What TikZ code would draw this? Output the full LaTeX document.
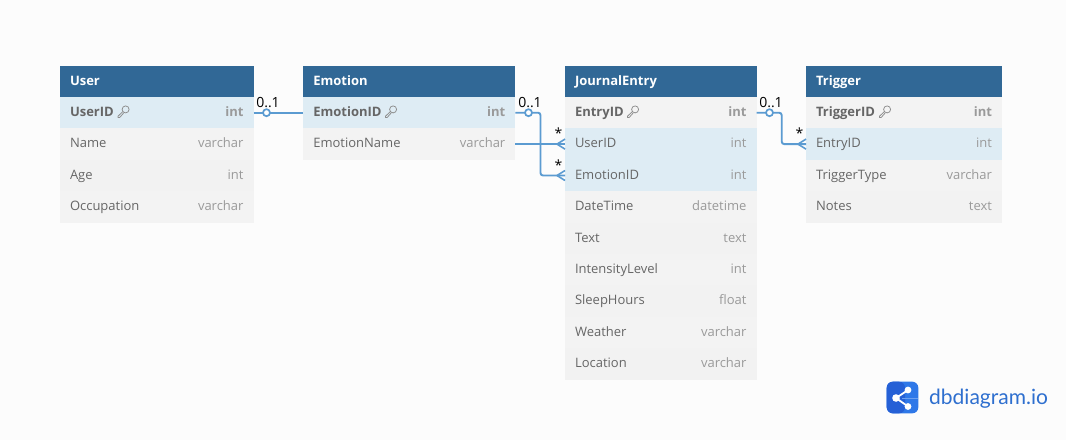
\documentclass[tikz,border=0pt]{standalone}
\usepackage{fontspec}
\setmainfont{Open Sans}
\newfontfamily\logofont{Lato}
\definecolor{pagebg}{HTML}{FCFCFC}
\definecolor{headblue}{HTML}{316896}
\definecolor{keyrow}{HTML}{DEECF4}
\definecolor{rowa}{HTML}{F3F3F3}
\definecolor{rowb}{HTML}{F2F2F2}
\definecolor{namegray}{HTML}{666666}
\definecolor{typegray}{HTML}{9A9A9A}
\definecolor{relblue}{HTML}{5B9BD1}
\definecolor{logoblue}{HTML}{2E6FCF}
\definecolor{logodark}{HTML}{2560D6}
\definecolor{logolight}{HTML}{2F78E8}
\tikzset{
  tablebox/.style={anchor=north west, inner xsep=10pt, inner ysep=0pt, outer sep=0pt, text height=10.6pt, text depth=3pt, font=\fontsize{13}{15}\selectfont, align=left},
  usercol/.style={text width=173.5pt},
  emotioncol/.style={text width=192pt},
  entrycol/.style={text width=171.5pt},
  triggercol/.style={text width=176pt},
  head/.style={tablebox, fill=headblue, text=white, minimum height=31pt, font=\fontsize{13}{15}\selectfont\bfseries},
  plain/.style={tablebox, fill=rowa, text=namegray, minimum height=31.4pt},
  plainb/.style={plain, fill=rowb},
  hit/.style={plain, fill=keyrow},
  pk/.style={plain, font=\fontsize{13}{15}\selectfont\bfseries},
  pkhit/.style={hit, font=\fontsize{13}{15}\selectfont\bfseries},
  rel/.style={draw=relblue, line width=1.9pt, rounded corners=2.5pt},
  foot/.style={draw=relblue, line width=1.6pt},
  card/.style={inner sep=0pt, text=black, font=\fontsize{14}{16}\selectfont},
  ring/.style={circle, draw=relblue, fill=white, line width=1.7pt, minimum size=7pt, inner sep=0pt},
  keyicon/.pic={
    \draw[namegray!75, line width=0.75pt] (2.6,-2.4) circle (3.5);
    \draw[namegray!75, line width=0.75pt, line join=round] (-0.2,-0.2) -- (-5,4.4) -- (-5,5.8) -- (-3.4,5.8) -- (0.8,1);
  },
}
\newcommand{\ftype}[1]{\hfill\textcolor{typegray}{#1}}
\begin{document}
\begin{tikzpicture}[x=1pt, y=-1pt]
\fill[pagebg] (0,0) rectangle (1066,440);
\useasboundingbox (0,0) rectangle (1066,440);
% User
\node[head, usercol] (User) at (60,66) {User};
\node[pkhit, usercol] (UserUserID) at (60,97) {UserID\ftype{int}};
\node[plain, usercol] (UserName) at (60,128.4) {Name\ftype{varchar}};
\node[plainb, usercol] (UserAge) at (60,159.8) {Age\ftype{int}};
\node[plain, usercol] (UserOccupation) at (60,191.2) {Occupation\ftype{varchar}};
\pic at (123,111.8) {keyicon};
% Emotion
\node[head, emotioncol] (Emotion) at (303.3,66) {Emotion};
\node[pkhit, emotioncol] (EmotionEmotionID) at (303.3,97) {EmotionID\ftype{int}};
\node[plain, emotioncol] (EmotionName) at (303.3,128.4) {EmotionName\ftype{varchar}};
\pic at (390.5,111.8) {keyicon};
% JournalEntry
\node[head, entrycol] (Entry) at (565,66) {JournalEntry};
\node[pk, entrycol] (EntryEntryID) at (565,97) {EntryID\ftype{int}};
\node[hit, entrycol] (EntryUserID) at (565,128.4) {UserID\ftype{int}};
\node[hit, entrycol] (EntryEmotionID) at (565,159.8) {EmotionID\ftype{int}};
\node[plain, entrycol] (EntryDateTime) at (565,191.2) {DateTime\ftype{datetime}};
\node[plainb, entrycol] (EntryText) at (565,222.6) {Text\ftype{text}};
\node[plain, entrycol] (EntryLevel) at (565,254) {IntensityLevel\ftype{int}};
\node[plainb, entrycol] (EntrySleep) at (565,285.4) {SleepHours\ftype{float}};
\node[plain, entrycol] (EntryWeather) at (565,316.8) {Weather\ftype{varchar}};
\node[plainb, entrycol] (EntryLocation) at (565,348.2) {Location\ftype{varchar}};
\pic at (632.5,111.8) {keyicon};
% Trigger
\node[head, triggercol] (Trigger) at (806,66) {Trigger};
\node[pk, triggercol] (TriggerTriggerID) at (806,97) {TriggerID\ftype{int}};
\node[hit, triggercol] (TriggerEntryID) at (806,128.4) {EntryID\ftype{int}};
\node[plain, triggercol] (TriggerType) at (806,159.8) {TriggerType\ftype{varchar}};
\node[plainb, triggercol] (TriggerNotes) at (806,191.2) {Notes\ftype{text}};
\pic at (884.5,111.8) {keyicon};
% relations
\draw[rel] (UserUserID.east) -- (EmotionEmotionID.west);
\draw[rel] (EmotionName.east) -- (EntryUserID.west);
\draw[rel] (EmotionEmotionID.east) -- (540.5,112.7) |- (EntryEmotionID.west);
\draw[rel] (EntryEntryID.east) -- (781.7,112.7) |- (TriggerEntryID.west);
\draw[foot] (EntryUserID.west) ++(-8,0) -- ++(8,-5) ++(-8,5) -- ++(8,5);
\draw[foot] (EntryEmotionID.west) ++(-8,0) -- ++(8,-5) ++(-8,5) -- ++(8,5);
\draw[foot] (TriggerEntryID.west) ++(-8,0) -- ++(8,-5) ++(-8,5) -- ++(8,5);
\node[ring] (ringA) at (266.5,112.7) {};
\node[ring] (ringB) at (528.5,112.7) {};
\node[ring] (ringC) at (769.5,112.7) {};
\node[card] (cardA) at (268,102.5) {0..1};
\node[card] (cardB) at (530,102.5) {0..1};
\node[card] (cardC) at (771,102.5) {0..1};
\node[card] (starA) at (558.5,133) {*};
\node[card] (starB) at (558.5,165) {*};
\node[card] (starC) at (799.5,133) {*};
% logo
\fill[logolight, rounded corners=6pt] (886.7,381.7) rectangle (918.3,413.3);
\fill[logodark, rounded corners=6pt] (886.7,381.7) rectangle (905,413.3);
\fill[logodark] (899,381.7) rectangle (902,413.3);
\draw[logolight!70!white, line width=0.5pt] (902,398) -- (918.3,398);
\draw[white, line width=1.8pt] (908,390) -- (896,398) -- (908,406.5);
\fill[white] (908,390) circle (3.4) (908,406.5) circle (3.4) (896,398) circle (3.8);
\node[inner sep=0pt, anchor=base west, text=logoblue, font=\logofont\fontsize{21}{23}\selectfont] (logotext) at (929,404) {dbdiagram.io};
\end{tikzpicture}
\end{document}
